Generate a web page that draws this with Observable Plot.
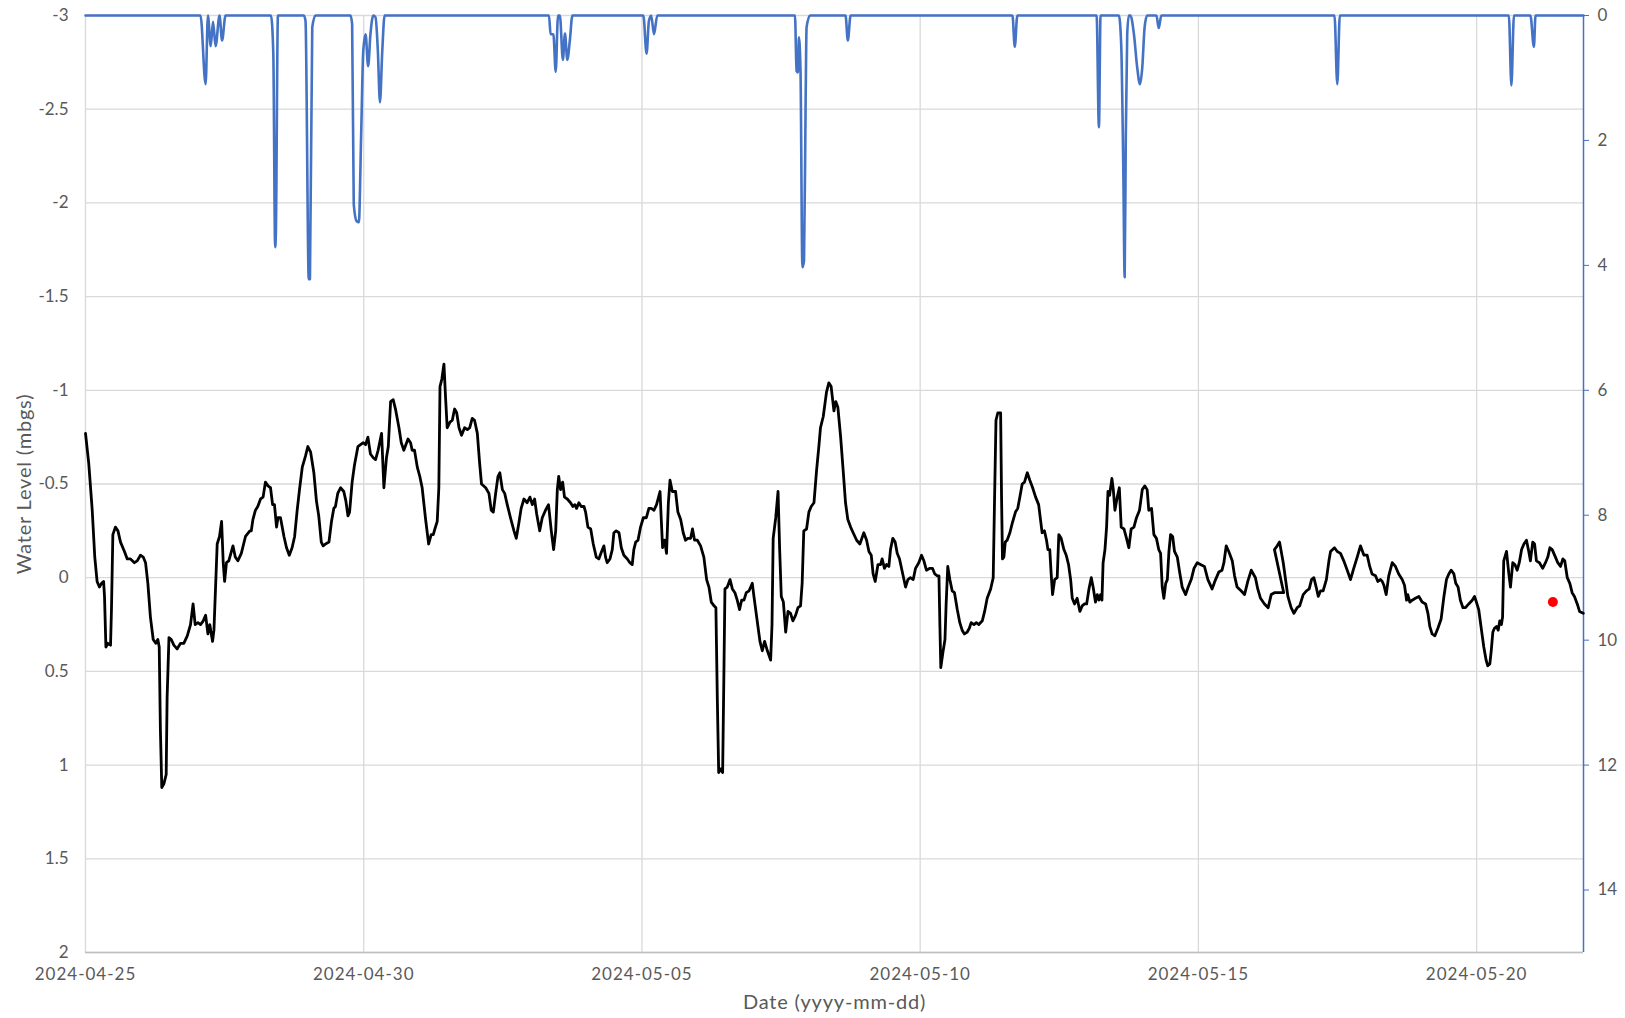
<!DOCTYPE html>
<html><head><meta charset="utf-8">
<script src="https://cdn.jsdelivr.net/npm/d3@7"></script>
<script src="https://cdn.jsdelivr.net/npm/@observablehq/plot@0.6"></script>
<style>body{margin:0;background:#fff;} #chart svg{display:block;}</style>
</head><body><div id="chart"></div>
<script>
// ---- data (hours since 2024-04-25 00:00 UTC) ----
const startDate = "2024-04-25T00:00:00Z";
const endHours = 646.1;
const dateTicks = ["2024-04-25","2024-04-30","2024-05-05","2024-05-10","2024-05-15","2024-05-20"];
const levelTicks = [-3,-2.5,-2,-1.5,-1,-0.5,0,0.5,1,1.5,2];
const rainTicks = [0,2,4,6,8,10,12,14];
const rainMax = 15;
const xTitle = "Date (yyyy-mm-dd)";
const yTitle = "Water Level (mbgs)";

// water level (mbgs): [hours, value]
const levelSeries = [
[0,-0.77],[1.4,-0.61],[2.9,-0.36],[4.0,-0.11],[5.0,0.02],[6.0,0.05],[6.9,0.03],[7.8,0.02],[8.2,0.10],[8.8,0.37],[9.6,0.35],[10.8,0.36],[11.2,0.17],[11.8,-0.23],[12.9,-0.27],[14.0,-0.25],[15.1,-0.19],[16.8,-0.14],[18.0,-0.10],[19.4,-0.10],[21.1,-0.08],[22.3,-0.09],[23.7,-0.12],[24.9,-0.11],[25.9,-0.08],[26.9,0.03],[28.0,0.21],[29.2,0.33],[30.3,0.35],[31.2,0.33],[31.8,0.37],[32.3,0.81],[32.9,1.12],[33.8,1.10],[34.8,1.05],[35.2,0.64],[36.0,0.32],[37.0,0.33],[38.1,0.36],[39.5,0.38],[41.0,0.35],[42.4,0.35],[43.9,0.31],[45.3,0.25],[46.4,0.14],[47.3,0.25],[48.5,0.24],[49.6,0.25],[50.8,0.23],[51.8,0.20],[52.8,0.30],[53.6,0.25],[54.8,0.34],[55.4,0.28],[56.8,-0.18],[57.8,-0.22],[58.7,-0.30],[59.4,-0.08],[60.0,0.02],[60.8,-0.08],[61.8,-0.09],[63.6,-0.17],[64.6,-0.11],[65.7,-0.09],[67.2,-0.13],[69.0,-0.22],[70.9,-0.25],[71.5,-0.25],[72.2,-0.31],[73.3,-0.36],[74.3,-0.38],[75.5,-0.42],[76.6,-0.43],[77.6,-0.51],[78.7,-0.49],[79.8,-0.48],[80.7,-0.39],[81.5,-0.39],[82.4,-0.27],[83.0,-0.32],[84.1,-0.32],[85.6,-0.22],[86.7,-0.16],[87.9,-0.12],[89.1,-0.16],[90.2,-0.22],[91.3,-0.36],[92.3,-0.47],[93.5,-0.59],[94.9,-0.65],[95.9,-0.70],[97.1,-0.67],[98.5,-0.56],[99.6,-0.41],[100.6,-0.33],[101.7,-0.19],[102.5,-0.17],[103.5,-0.18],[105.0,-0.19],[106.1,-0.30],[107.1,-0.37],[107.8,-0.38],[108.8,-0.45],[110.0,-0.48],[111.4,-0.46],[112.3,-0.41],[113.2,-0.33],[113.9,-0.35],[115.0,-0.51],[116.0,-0.60],[117.5,-0.70],[118.6,-0.71],[119.8,-0.72],[120.8,-0.71],[121.8,-0.75],[122.9,-0.66],[124.1,-0.64],[125.1,-0.63],[126.2,-0.68],[127.7,-0.77],[128.7,-0.48],[129.8,-0.64],[130.6,-0.70],[131.6,-0.94],[132.7,-0.95],[133.7,-0.90],[135.2,-0.80],[136.2,-0.72],
[137.3,-0.68],[139.1,-0.74],[140.2,-0.72],[140.9,-0.68],[141.9,-0.68],[143.1,-0.59],[144.2,-0.54],[145.2,-0.48],[146.7,-0.31],[148.0,-0.18],[149.1,-0.23],[150.0,-0.23],[150.7,-0.26],[151.7,-0.30],[152.4,-0.48],[152.9,-1.02],[153.7,-1.06],[154.6,-1.14],[155.3,-0.96],[156.0,-0.80],[157.2,-0.83],[158.2,-0.84],[159.2,-0.90],[160.1,-0.88],[161.1,-0.80],[162.2,-0.76],[163.5,-0.80],[164.7,-0.79],[165.7,-0.80],[166.8,-0.85],[167.8,-0.84],[169.0,-0.77],[170.0,-0.61],[170.8,-0.50],[172.6,-0.48],[174.0,-0.45],[175.0,-0.36],[175.9,-0.35],[176.9,-0.45],[177.9,-0.54],[178.7,-0.56],[179.8,-0.47],[180.8,-0.45],[181.9,-0.39],[183.3,-0.32],[184.8,-0.25],[185.8,-0.21],[186.9,-0.29],[187.9,-0.37],[189.1,-0.42],[190.5,-0.40],[191.7,-0.43],[192.7,-0.39],[193.7,-0.42],[194.6,-0.34],[195.9,-0.25],[197.0,-0.32],[198.4,-0.36],[199.7,-0.39],[200.9,-0.25],[201.9,-0.15],[202.8,-0.25],[203.5,-0.47],[204.1,-0.54],[204.9,-0.47],[205.8,-0.51],[206.6,-0.43],[207.8,-0.42],[209.2,-0.40],[210.2,-0.38],[211.1,-0.39],[211.8,-0.37],[212.8,-0.40],[213.8,-0.38],[215.0,-0.38],[215.7,-0.35],[216.7,-0.27],[217.9,-0.26],[219.0,-0.18],[220.3,-0.11],[221.4,-0.10],[222.6,-0.14],[223.6,-0.17],[224.3,-0.11],[225.0,-0.08],[226.2,-0.10],[227.2,-0.15],[227.9,-0.24],[228.9,-0.25],[230.1,-0.24],[231.1,-0.16],[232.2,-0.12],[233.7,-0.10],[234.8,-0.08],[235.8,-0.07],[236.5,-0.15],[237.3,-0.19],[238.3,-0.20],[239.4,-0.27],[240.6,-0.32],[241.9,-0.32],[243.0,-0.37],[244.0,-0.37],[245.2,-0.36],[246.3,-0.39],[247.8,-0.46],[248.3,-0.32],[248.9,-0.16],[249.8,-0.20],[250.6,-0.13],[251.4,-0.40],[252.1,-0.52],[253.1,-0.46],[254.5,-0.46],[255.5,-0.35],[256.7,-0.31],[257.8,-0.24],[258.8,-0.20],[259.8,-0.21],[261.0,-0.21],[261.8,-0.26],[262.7,-0.20],[263.9,-0.20],[265.3,-0.17],[266.7,-0.11],[267.9,0.01],[268.9,0.05],[269.9,0.13],[271.1,0.15],[271.9,0.16],[272.5,0.64],[273.1,1.04],[273.9,1.02],[274.8,1.04],[275.4,0.46],[275.8,0.06],[276.8,0.05],[278.0,0.01],[279.0,0.06],[280.1,0.08],[281.1,0.12],[282.1,0.17],[283.0,0.12],[284.0,0.12],[285.0,0.08],[286.2,0.07],[287.6,0.03],[288.3,0.10],[289.7,0.23],[290.9,0.34],[291.9,0.39],[292.9,0.34],[294.1,0.39],[295.5,0.44],[296.1,0.25],[296.6,-0.21],[297.7,-0.32],[298.7,-0.46],[299.4,-0.15],[300.1,0.10],[301.0,0.13],[302.0,0.29],[303.0,0.18],[304.1,0.19],[305.1,0.23],[306.3,0.20],[307.3,0.16],[308.4,0.15],
[309.1,0.03],[309.8,-0.25],[311.0,-0.26],[312.0,-0.35],[313.0,-0.38],[314.2,-0.40],[315.3,-0.57],[316.3,-0.70],[317.0,-0.80],[318.2,-0.86],[319.6,-0.99],[320.6,-1.04],[321.6,-1.02],[322.8,-0.89],[323.6,-0.94],[324.5,-0.91],[325.7,-0.75],[326.8,-0.57],[327.8,-0.40],[328.8,-0.31],[330.0,-0.27],[331.1,-0.24],[332.6,-0.20],[334.0,-0.18],[335.7,-0.24],[336.9,-0.20],[337.9,-0.14],[338.9,-0.12],[339.7,-0.02],[340.6,0.02],[341.8,-0.07],[342.9,-0.07],[343.6,-0.10],[344.6,-0.05],[345.5,-0.07],[346.5,-0.06],[347.2,-0.15],[348.2,-0.21],[349.2,-0.19],[350.1,-0.13],[351.1,-0.10],[352.3,-0.03],[353.7,0.05],[354.7,0.01],[355.8,0.00],[357.0,0.01],[358.0,-0.05],[359.4,-0.08],[360.6,-0.12],[361.6,-0.09],[362.7,-0.04],[364.2,-0.05],[365.3,-0.05],[366.3,-0.02],[367.4,-0.01],[368.1,-0.01],[368.5,0.25],[368.9,0.48],[369.8,0.40],[370.7,0.33],[371.2,0.14],[371.9,-0.06],[372.8,0.01],[373.8,0.07],[374.8,0.08],[376.0,0.17],[377.1,0.24],[378.1,0.28],[379.1,0.30],[380.3,0.29],[381.2,0.27],[382.0,0.24],[383.2,0.25],[384.2,0.24],[385.3,0.25],[386.8,0.23],[387.8,0.18],[388.9,0.11],[390.4,0.06],[391.5,0.00],[392.1,-0.43],[392.7,-0.84],[393.5,-0.88],[394.7,-0.88],[395.1,-0.43],[395.5,-0.10],[396.1,-0.11],[396.7,-0.19],[397.5,-0.20],[398.7,-0.24],[399.7,-0.29],[401.1,-0.35],[402.1,-0.37],[403.0,-0.43],[404.0,-0.50],[405.0,-0.51],[406.2,-0.56],[407.3,-0.52],[408.5,-0.48],[409.8,-0.43],[411.1,-0.39],[411.9,-0.31],[412.6,-0.24],[413.6,-0.25],[414.5,-0.20],[415.1,-0.15],[415.9,-0.15],[416.5,-0.02],[417.1,0.09],[418.0,0.01],[419.1,0.00],[419.8,-0.23],[420.8,-0.21],[422.0,-0.15],[423.0,-0.12],[424.0,-0.07],[424.9,0.01],[425.6,0.11],[426.6,0.14],[427.7,0.11],[428.9,0.18],[429.9,0.15],[430.9,0.14],[431.8,0.14],[432.8,0.06],[433.8,0.00],[434.6,0.05],[435.6,0.13],[436.4,0.09],[437.1,0.12],[437.8,0.09],[438.4,0.12],[438.9,-0.08],[439.7,-0.15],[440.4,-0.27],[441.0,-0.46],[441.7,-0.44],[442.7,-0.53],[443.3,-0.47],[444.0,-0.36],[445.0,-0.43],[445.9,-0.48],[446.7,-0.27],[447.9,-0.26],[449.0,-0.21],[450.0,-0.16],[451.0,-0.26],[452.2,-0.27],[453.3,-0.32],[454.6,-0.36],[455.8,-0.47],[456.9,-0.49],[457.9,-0.47],[458.6,-0.36],[459.8,-0.37],[460.8,-0.23],[461.9,-0.21],[462.9,-0.15],[463.7,-0.13],[464.4,0.05],[465.1,0.11],[465.9,0.03],[466.6,0.01],[467.3,-0.14],[468.0,-0.23],[468.9,-0.22],[469.7,-0.14],[470.9,-0.11],[471.9,-0.03],[473.0,0.05],[474.5,0.09],[475.6,0.05],[476.9,0.01],[478.1,-0.05],[479.5,-0.08],[480.9,-0.07],
[482.6,-0.06],[484.1,0.01],[485.9,0.06],[487.4,0.01],[488.8,-0.03],[490.2,-0.04],[491.0,-0.08],[492.0,-0.17],[493.1,-0.14],[494.6,-0.09],[495.6,-0.01],[496.7,0.05],[498.4,0.07],[499.9,0.09],[501.3,0.02],[502.8,-0.04],[504.6,0.00],[505.6,0.06],[506.8,0.11],[508.5,0.14],[510.1,0.16],[511.4,0.09],[512.8,0.08],[514.7,0.08],[516.8,0.08],[512.8,-0.15],[514.0,-0.17],[515.0,-0.19],[516.6,-0.08],[518.6,0.10],[520.0,0.16],[521.2,0.19],[522.6,0.16],[523.7,0.15],[525.2,0.09],[526.6,0.07],[527.8,0.06],[528.8,0.01],[529.8,0.00],[530.8,0.05],[531.7,0.10],[532.7,0.07],[533.8,0.07],[535.2,0.01],[536.3,-0.09],[537.0,-0.14],[538.7,-0.16],[539.9,-0.14],[541.3,-0.13],[542.7,-0.09],[544.2,-0.04],[545.6,0.01],[547.0,-0.05],[548.5,-0.11],[549.9,-0.17],[551.4,-0.12],[552.8,-0.12],[553.9,-0.06],[554.9,-0.02],[556.4,-0.01],[557.4,0.02],[558.5,0.01],[559.3,0.02],[560.0,0.04],[561.0,0.09],[562.1,-0.01],[563.6,-0.08],[565.0,-0.06],[566.4,-0.02],[567.9,0.01],[568.9,0.04],[569.8,0.12],[570.3,0.09],[571.2,0.13],[572.2,0.12],[573.6,0.11],[575.1,0.10],[576.5,0.13],[578.0,0.14],[579.0,0.19],[579.8,0.26],[580.8,0.30],[582.0,0.31],[583.3,0.27],[584.7,0.22],[585.9,0.10],[587.0,0.01],[588.0,-0.02],[589.0,-0.04],[590.2,-0.02],[591.0,0.03],[592.0,0.05],[593.0,0.12],[594.1,0.16],[595.2,0.16],[596.6,0.14],[598.1,0.12],[599.1,0.10],[599.9,0.13],[600.9,0.17],[602.1,0.28],[603.1,0.37],[604.1,0.44],[604.8,0.47],[605.7,0.46],[606.3,0.39],[607.0,0.29],[607.7,0.27],[608.6,0.26],[609.3,0.28],[610.0,0.23],[610.7,0.25],[611.2,0.21],[611.7,-0.09],[612.9,-0.14],[613.9,-0.02],[614.6,0.05],[615.6,-0.08],[616.5,-0.07],[617.5,-0.04],[618.4,-0.08],[619.4,-0.15],[620.4,-0.18],[621.5,-0.20],[622.5,-0.14],[623.2,-0.09],[624.2,-0.19],[625.0,-0.18],[625.8,-0.09],[627.1,-0.08],[628.5,-0.05],[629.7,-0.08],[630.7,-0.11],[631.6,-0.16],[632.6,-0.15],[634.0,-0.11],[635.0,-0.08],[636.2,-0.06],[637.2,-0.10],[638.0,-0.09],[639.1,0.00],[640.2,0.03],[641.2,0.08],[642.2,0.10],[643.4,0.14],[644.4,0.18],[646.0,0.19]
];

// rainfall (right axis): [hours, value]
const rainSeries = [
[0,0],[49.6,0],[51.8,1.1],[52.8,0],[54.0,0.49],[55.0,0.1],[56.1,0.49],[57.8,0],[58.9,0.4],[60.4,0],
[80.0,0],[81.0,0.6],[81.8,3.71],[82.1,3.5],[83.0,0],
[94.2,0],[94.9,0.09],[96.3,4.22],[96.8,4.22],[97.8,0.19],[99.2,0],
[114.3,0],[115.0,0.14],[115.7,3.02],[116.9,3.29],[117.9,3.31],[118.9,1.9],[119.8,0.57],[120.8,0.3],[121.9,0.81],[122.9,0.3],[124.1,0],[125.1,0.03],[126.1,0.57],[127.0,1.39],[128.0,0.57],[129.0,0],
[199.9,0],[200.6,0.3],[201.8,0.3],[202.8,0.9],[203.8,0],[204.6,0],[205.9,0.71],[206.8,0.29],[207.8,0.71],[208.9,0.4],[210.0,0],
[240.6,0],[242.0,0.61],[243.0,0.09],[244.0,0],[245.2,0.3],[246.6,0],
[306.0,0],[306.7,0.89],[307.3,0.91],[307.7,0.35],[308.4,0.91],[309.2,4.03],[309.9,3.93],[310.6,1.37],[311.0,0.19],[312.5,0],
[327.8,0],[328.8,0.4],[330.0,0],
[399.8,0],[400.8,0.5],[401.9,0],
[436.1,0],[437.1,1.79],[437.8,0],
[445.7,0],[446.7,0.46],[447.6,2.43],[448.2,4.19],[448.7,1.9],[449.3,0.3],[450.0,0],[450.7,0],[452.2,0.3],[453.6,0.83],[454.8,1.1],[455.8,0.83],[456.8,0.19],[457.9,0],[461.9,0],[462.9,0.2],[464.0,0],
[538.7,0],[539.9,1.1],[541.0,0],
[613.9,0],[615.0,1.12],[616.1,0],[623.2,0],[624.7,0.5],[625.4,0],[646.1,0]
];

// single highlighted reading
const markerPoint = [[632.9, 0.13]];

// ---- build ----
const t0 = Date.parse(startDate);
const toDate = h => new Date(t0 + h * 3600e3);
const toLevel = p => -3 + p * 5 / rainMax;
const level = levelSeries.map(([h, v]) => ({t: toDate(h), v}));
const rain = rainSeries.map(([h, p]) => ({t: toDate(h), p}));
const marker = markerPoint.map(([h, v]) => ({t: toDate(h), v}));
const xTicks = dateTicks.map(d => new Date(d + "T00:00:00Z"));
const grey = "#595959";
const blue = "#4472C4";

const chart = Plot.plot({
  width: 1625, height: 1018,
  marginTop: 15, marginBottom: 66, marginLeft: 85, marginRight: 42,
  style: {fontFamily: "Lato, 'Open Sans', sans-serif", fontSize: "17px", color: grey, background: "#fff"},
  x: {type: "utc", domain: [toDate(0), toDate(endHours)]},
  y: {domain: [-3, 2], reverse: true},
  marks: [
    Plot.gridY(levelTicks, {stroke: "#d9d9d9", strokeOpacity: 1, strokeWidth: 1.3}),
    Plot.gridX(xTicks, {stroke: "#d9d9d9", strokeOpacity: 1, strokeWidth: 1.3}),
    Plot.ruleY([2], {stroke: "#bfbfbf", strokeWidth: 1.5}),
    Plot.axisY(levelTicks, {anchor: "left", tickSize: 0, tickPadding: 17, tickFormat: d => String(d), fill: grey, fontSize: 17, label: null}),
    Plot.axisX(xTicks, {anchor: "bottom", tickSize: 0, tickPadding: 15, tickFormat: d3.utcFormat("%Y-%m-%d"), fill: grey, fontSize: 17, label: null}),
    Plot.axisY(rainTicks.map(toLevel), {anchor: "right", tickSize: 5, tickPadding: 9, tickFormat: d => String(Math.round((d + 3) * rainMax / 5)), stroke: blue, fill: grey, fontSize: 17, label: null}),
    Plot.ruleX([toDate(endHours)], {stroke: blue, strokeWidth: 1.5}),
    Plot.line(rain, {x: "t", y: d => toLevel(d.p), stroke: blue, strokeWidth: 2.6, curve: "monotone-x"}),
    Plot.line(level, {x: "t", y: "v", stroke: "#000", strokeWidth: 2.8, strokeLinejoin: "round"}),
    Plot.dot(marker, {x: "t", y: "v", r: 5, fill: "#ff0000", stroke: null}),
    Plot.text([xTitle], {frameAnchor: "bottom", textAnchor: "middle", lineAnchor: "middle", dy: 50, fontSize: 20, fill: grey}),
    Plot.text([yTitle], {frameAnchor: "left", textAnchor: "middle", lineAnchor: "middle", dx: -61, rotate: -90, fontSize: 20, fill: grey})
  ]
});
document.getElementById("chart").appendChild(chart);
// widen the letter spacing a little to approximate the original's wide typeface
d3.select(chart).selectAll('g[aria-label="x-axis tick label"] text').attr("letter-spacing", "1px");
d3.select(chart).selectAll('g[aria-label="text"] text').attr("letter-spacing", "0.8px");
</script>
</body></html>
